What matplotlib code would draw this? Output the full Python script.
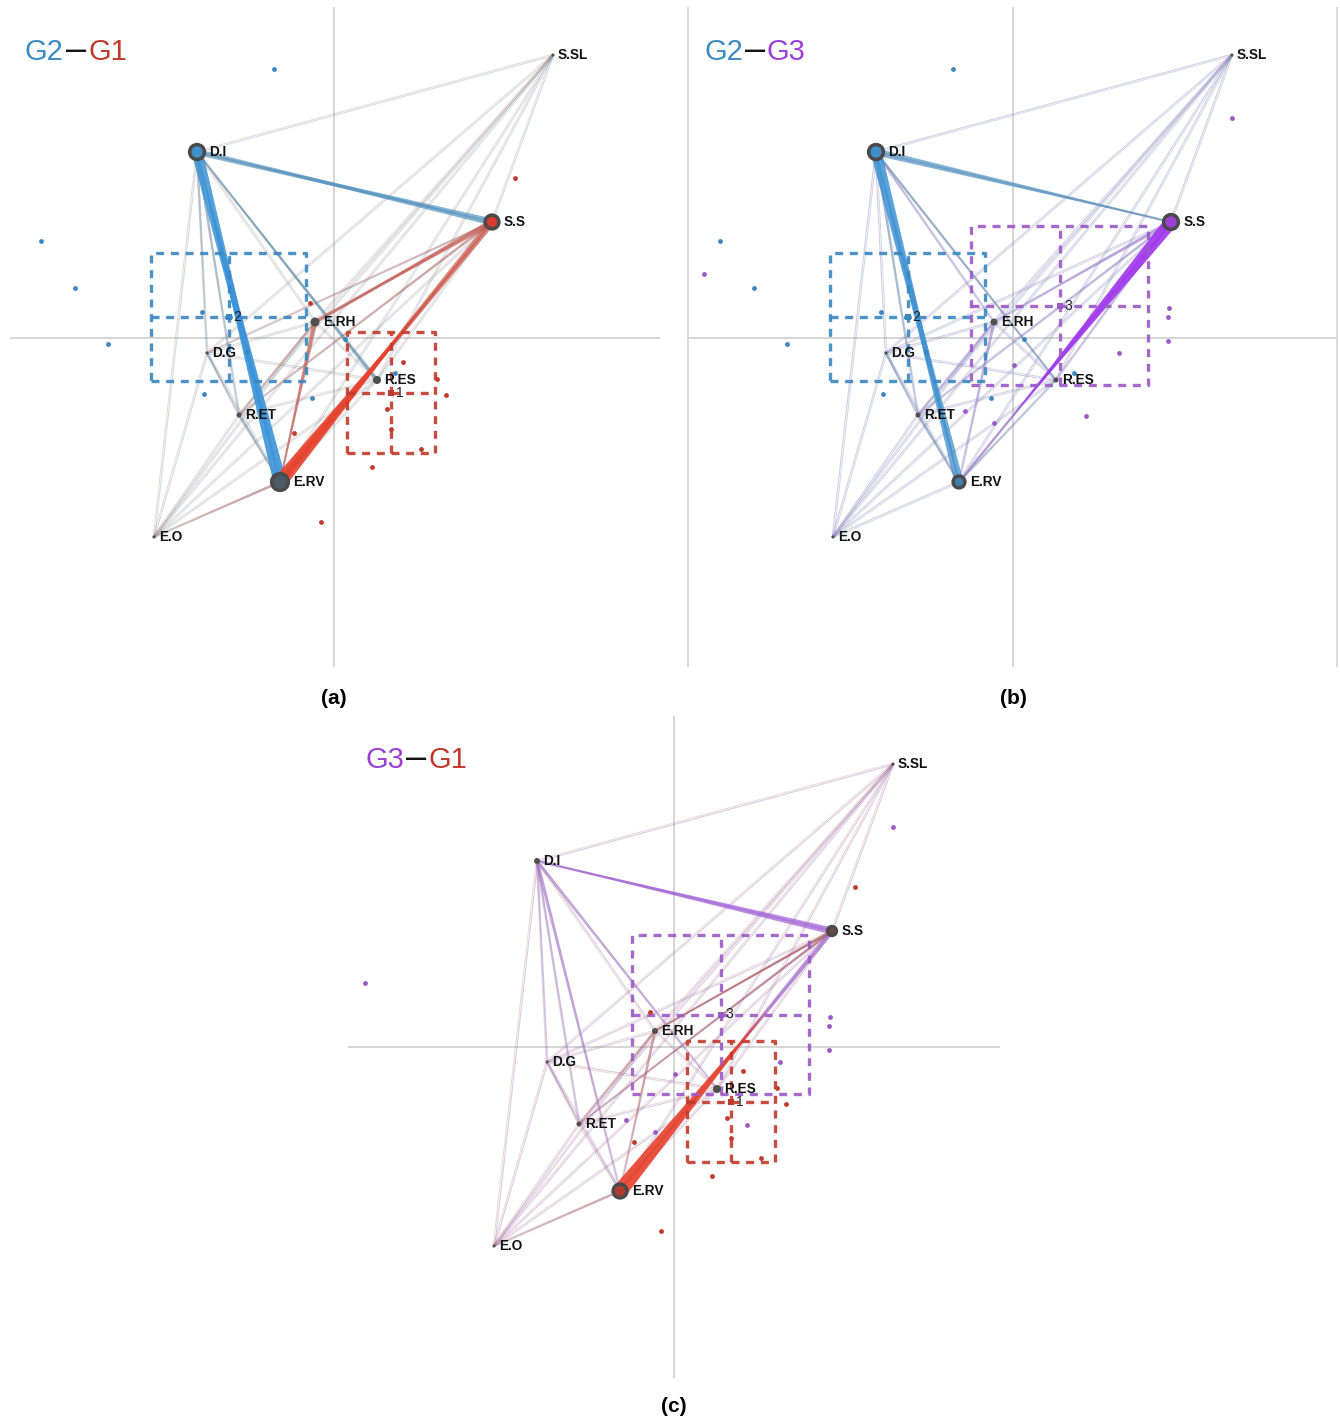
import numpy as np
import matplotlib
matplotlib.use("Agg")
import matplotlib.pyplot as plt
from matplotlib.patches import Polygon, Circle
from matplotlib.colors import to_rgb
from itertools import combinations

plt.rcParams['font.family'] = ['Liberation Sans', 'DejaVu Sans']

# node layout (shared by the three panels), origin = crossing of the axes
NODES = ["S.SL", "D.I", "S.S", "E.RH", "D.G", "R.ES", "R.ET", "E.RV", "E.O"]
NODE_X = [219, -137, 158, -19, -127, 43, -95, -54, -180]
NODE_Y = [283, 186, 116, 16, -15, -42, -77, -144, -199]

# group colours
TITLE_COLOR = {"G1": "#c0392b", "G2": "#3d8ac4", "G3": "#9b3fd8"}
BRIGHT = {"G1": "#e8402a", "G2": "#3b93d9", "G3": "#a034ee"}
MUTED = {"G1": "#b06058", "G2": "#5a8aa6", "G3": "#9a76c4"}
THIN_ALPHA = {"G1": 0.25, "G2": 0.3, "G3": 0.4}
DOT_COLOR = {"G1": "#c0392b", "G2": "#3a86c1", "G3": "#9b59c6"}

# individual subjects
DOTS_G1_X = [181, -24, 69, 103, 112, 53, 57, 87, 38, -40, -13]
DOTS_G1_Y = [160, 35, -24, -41, -57, -71, -91, -111, -129, -95, -184]
DOTS_G2_X = [-60, -293, -259, -226, -132, -130, -87, -22, 11, 61]
DOTS_G2_Y = [269, 97, 50, -6, 26, -56, -14, -60, -1, -35]
DOTS_G3_X = [-309, 219, 156, 155, 155, 106, 73, 1, -19, -48]
DOTS_G3_Y = [64, 220, 30, 21, -3, -15, -78, -27, -85, -73]

# group spread boxes: x0, x1, y0, y1
BOX_G1 = [13, 101, -115, 6]
BOX_G2 = [-183, -28, -43, 85]
BOX_G3 = [-42, 135, -47, 112]
GROUP_NUM = {"G1": "1", "G2": "2", "G3": "3"}

# node sizes and fills per panel
RADII_A = [1.5, 9, 8.5, 4.5, 1.5, 4, 2.5, 10, 1.5]
FILL_A = [None, "#3f8fc8", "#d63a2a", None, None, None, None, "#4d5b66", None]
RADII_B = [1.5, 9, 9, 3.5, 1.5, 2.5, 2.5, 7.5, 1.5]
FILL_B = [None, "#3f8fc8", "#9b3fd8", None, None, None, None, "#3f7fa8", None]
RADII_C = [1.5, 3, 6, 3, 1.5, 4, 2.5, 8.5, 1.5]
FILL_C = [None, None, "#7a4545", None, None, None, None, "#b03a2e", None]

# strong edges: (source, target, width at source, reach)
EDGES_A_G2 = [("D.I", "E.RV", 11, 1), ("E.RV", "D.I", 13, 1),
              ("D.I", "S.S", 6, 1), ("S.S", "D.I", 7, 1),
              ("R.ES", "D.I", 4, 1), ("D.I", "R.ES", 2, 1),
              ("D.I", "R.ET", 2.5, 1), ("D.I", "D.G", 2, 1),
              ("R.ET", "E.RV", 2.5, 1), ("D.G", "R.ET", 2, 1)]
EDGES_A_G1 = [("S.S", "E.RV", 7, 1), ("E.RV", "S.S", 7, 1),
              ("E.RV", "S.S", 14, 0.67),
              ("S.S", "E.RH", 6, 1), ("E.RH", "S.S", 4, 1),
              ("E.RH", "E.RV", 5, 1), ("E.RV", "E.RH", 2, 1),
              ("S.S", "R.ET", 2.5, 1), ("S.S", "D.G", 1.5, 1),
              ("E.RV", "E.O", 2.5, 1), ("E.RH", "R.ET", 2, 1)]
EDGES_B_G2 = [("D.I", "E.RV", 11, 1), ("E.RV", "D.I", 9, 1),
              ("D.I", "S.S", 7, 1), ("S.S", "D.I", 2, 1),
              ("D.I", "R.ES", 2, 1), ("R.ES", "D.I", 1.5, 1),
              ("D.I", "R.ET", 2.5, 1), ("R.ET", "E.RV", 2.5, 1),
              ("D.G", "R.ET", 2, 1), ("E.RV", "R.ES", 1.5, 1)]
EDGES_B_G3 = [("S.S", "E.RV", 13, 0.77), ("S.S", "E.RV", 3, 1),
              ("E.RV", "S.S", 2.5, 1), ("S.S", "E.RH", 3.5, 1),
              ("S.S", "R.ET", 2, 1), ("E.RH", "E.RV", 2.5, 1),
              ("E.RH", "R.ET", 2, 1), ("S.S", "R.ES", 2, 1),
              ("D.I", "E.RH", 1.5, 1)]
EDGES_C_G3 = [("S.S", "D.I", 7, 1), ("D.I", "S.S", 2.5, 1),
              ("D.I", "E.RV", 3.5, 1), ("D.I", "R.ES", 3, 1),
              ("S.S", "E.RV", 5, 1), ("S.S", "R.ET", 2, 1),
              ("S.S", "E.RH", 2, 1), ("D.I", "D.G", 1.5, 1),
              ("D.I", "R.ET", 2, 1), ("D.G", "R.ET", 1.5, 1)]
EDGES_C_G1 = [("E.RV", "S.S", 15, 0.7), ("E.RV", "S.S", 2, 1),
              ("S.S", "E.RH", 3, 1), ("E.RH", "S.S", 2, 1),
              ("E.RH", "E.RV", 2.5, 1), ("S.S", "R.ET", 2.5, 1),
              ("E.RH", "R.ET", 2, 1), ("E.RV", "E.O", 2, 1)]

W, H = 1340, 1421


def pos(name):
    i = NODES.index(name)
    return np.array([NODE_X[i], NODE_Y[i]], float)


def blend(g, w):
    t = min(max((w - 2) / 10.0, 0), 1)
    c = (1 - t) * np.array(to_rgb(MUTED[g])) + t * np.array(to_rgb(BRIGHT[g]))
    return tuple(c), 0.45 + 0.45 * t


def wedge(ax, p, q, w, reach, color, alpha):
    d = q - p
    u = d / np.hypot(*d)
    n = np.array([-u[1], u[0]])
    tip = p + d * reach
    tw = 0.6 if reach >= 1 else 0.0
    pts = [p + n * w / 2, tip + n * tw / 2, tip - n * tw / 2, p - n * w / 2]
    ax.add_patch(Polygon(pts, closed=True, facecolor=color, edgecolor='none',
                         alpha=alpha, zorder=2))


def draw_box(ax, g):
    x0, x1, y0, y1 = {"G1": BOX_G1, "G2": BOX_G2, "G3": BOX_G3}[g]
    cx, cy = (x0 + x1) / 2, (y0 + y1) / 2
    c = DOT_COLOR[g]
    kw = dict(color=c, lw=2.4, ls=(0, (2.4, 2.0)), alpha=0.9, zorder=3,
              solid_capstyle='butt', dash_capstyle='butt')
    ax.plot([x0, x1, x1, x0, x0], [y0, y0, y1, y1, y0], **kw)
    ax.plot([cx, cx], [y0, y1], **kw)
    ax.plot([x0, x1], [cy, cy], **kw)
    ax.scatter([cx], [cy], marker='s', s=14, color=c, zorder=4, linewidths=0)
    ax.text(cx + 5, cy, GROUP_NUM[g], fontsize=10, ha='left', va='center',
            color='#222222', zorder=6)


def draw_panel(rect, xlim, ylim, ga, gb, edges_a, edges_b, radii, fills,
               letter, letter_xy, side_lines=False):
    ax = fig.add_axes(rect)
    ax.set_xlim(*xlim)
    ax.set_ylim(*ylim)
    ax.axis('off')
    ax.axhline(0, color='#d5d5d5', lw=1.4, zorder=0)
    ax.axvline(0, color='#d5d5d5', lw=1.4, zorder=0)
    if side_lines:
        ax.axvline(xlim[0] + 1, color='#d5d5d5', lw=1.2, zorder=0)
        ax.axvline(xlim[1] - 1, color='#d5d5d5', lw=1.2, zorder=0)

    # thin background connections for both groups
    for a, b in combinations(NODES, 2):
        p, q = pos(a), pos(b)
        d = q - p
        u = d / np.hypot(*d)
        n = np.array([-u[1], u[0]])
        for g, off in ((gb, -0.8), (ga, 0.8)):
            ax.plot([p[0] + n[0] * off, q[0] + n[0] * off],
                    [p[1] + n[1] * off, q[1] + n[1] * off],
                    color=MUTED[g], lw=0.75, alpha=THIN_ALPHA[g], zorder=1)

    # strong connections, thin first
    items = [(ga, e) for e in edges_a] + [(gb, e) for e in edges_b]
    items.sort(key=lambda it: it[1][2])
    for g, (s, t, w, r) in items:
        col, al = blend(g, w)
        wedge(ax, pos(s), pos(t), w, r, col, al)

    for g in (ga, gb):
        draw_box(ax, g)
        xs = {"G1": DOTS_G1_X, "G2": DOTS_G2_X, "G3": DOTS_G3_X}[g]
        ys = {"G1": DOTS_G1_Y, "G2": DOTS_G2_Y, "G3": DOTS_G3_Y}[g]
        ax.scatter(xs, ys, s=12, color=DOT_COLOR[g], linewidths=0, zorder=4)

    for i, name in enumerate(NODES):
        x, y = NODE_X[i], NODE_Y[i]
        r = radii[i]
        if fills[i] is not None:
            ax.add_patch(Circle((x, y), r - 1.6, facecolor=fills[i],
                                edgecolor='#4a4a4a', lw=2.5, zorder=5))
        else:
            ax.add_patch(Circle((x, y), r, facecolor='#4f4f4f',
                                edgecolor='none', zorder=5))
        ax.text(x + r + 3.5, y, name, fontsize=9.8, fontweight='bold',
                ha='left', va='center', color='#111111', zorder=6)

    # title  "Gx–Gy"
    ax.text(-309, 278.5, ga, fontsize=21, color=TITLE_COLOR[ga],
            ha='left', va='baseline', clip_on=False)
    ax.text(-258, 278.5, "\u2013", fontsize=26, color='#111111',
            ha='center', va='baseline', clip_on=False)
    ax.text(-246, 278.5, gb, fontsize=21, color=TITLE_COLOR[gb],
            ha='left', va='baseline', clip_on=False)

    fig.text(letter_xy[0] / W, 1 - letter_xy[1] / H, "(" + letter + ")",
             fontsize=15, fontweight='bold', ha='center', va='center')
    return ax


fig = plt.figure(figsize=(W / 100, H / 100), dpi=100)

draw_panel([10 / W, 1 - 667 / H, 650 / W, 660 / H], (-324, 326), (-329, 331),
           "G2", "G1", EDGES_A_G2, EDGES_A_G1, RADII_A, FILL_A, "a", (334, 698))
draw_panel([687 / W, 1 - 667 / H, 651 / W, 660 / H], (-326, 325), (-329, 331),
           "G2", "G3", EDGES_B_G2, EDGES_B_G3, RADII_B, FILL_B, "b", (1013, 698),
           side_lines=True)
draw_panel([348 / W, 1 - 1378 / H, 652 / W, 662 / H], (-326, 326), (-331, 331),
           "G3", "G1", EDGES_C_G3, EDGES_C_G1, RADII_C, FILL_C, "c", (674, 1407))

fig.savefig("out.png", dpi=100)
